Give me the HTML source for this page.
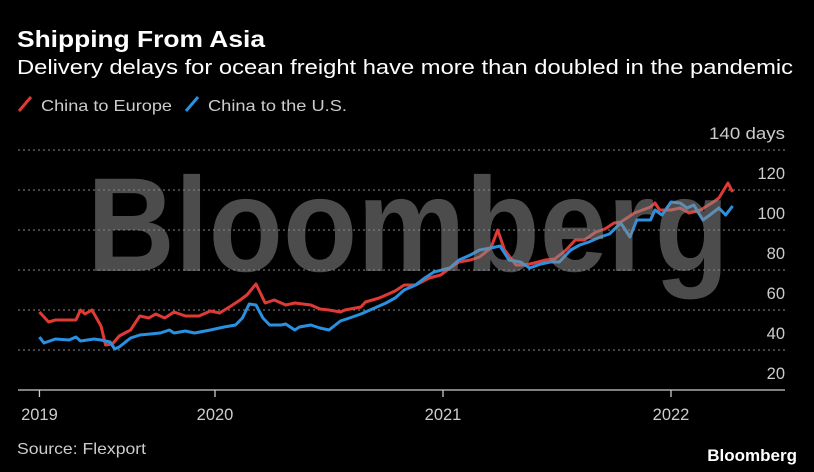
<!DOCTYPE html>
<html><head><meta charset="utf-8"><style>
html,body{margin:0;padding:0;background:#000;}
svg{display:block;font-family:"Liberation Sans","DejaVu Sans",sans-serif;}
</style></head><body>
<svg id="chart" width="814" height="472" viewBox="0 0 814 472">
<rect width="814" height="472" fill="#000"/>
<text x="17" y="47" fill="#fff" font-size="23" font-weight="bold" textLength="248" lengthAdjust="spacingAndGlyphs">Shipping From Asia</text>
<text x="17" y="74" fill="#fff" font-size="20.5" textLength="776" lengthAdjust="spacingAndGlyphs">Delivery delays for ocean freight have more than doubled in the pandemic</text>
<g>
<line x1="19" y1="111" x2="31" y2="97" stroke="#e03a35" stroke-width="3"/>
<text x="41" y="111" fill="#ccc" font-size="16" textLength="131" lengthAdjust="spacingAndGlyphs">China to Europe</text>
<line x1="186" y1="111" x2="198" y2="97" stroke="#2a90e0" stroke-width="3"/>
<text x="208" y="111" fill="#ccc" font-size="16" textLength="139" lengthAdjust="spacingAndGlyphs">China to the U.S.</text>
</g>
<g id="grid"></g>
<g id="series"></g>
<text x="729" y="271" fill="#8a8a8a" fill-opacity="0.55" font-size="134" font-weight="bold" text-anchor="end" textLength="642" lengthAdjust="spacingAndGlyphs">Bloomberg</text>
<text x="17" y="454" fill="#ccc" font-size="16" textLength="129" lengthAdjust="spacingAndGlyphs">Source: Flexport</text>
<text x="797" y="461" fill="#fff" font-size="17" font-weight="bold" text-anchor="end">Bloomberg</text>
</svg>
<script>
const tickTimes = [2019.23, 2020, 2021, 2022];
const tickYears = ["2019", "2020", "2021", "2022"];
const yTicks = [20, 40, 60, 80, 100, 120, 140];
const europeTimes = [2019.23,2019.27,2019.30,2019.39,2019.41,2019.43,2019.46,2019.50,2019.52,2019.55,2019.58,2019.63,2019.67,2019.71,2019.74,2019.78,2019.82,2019.87,2019.93,2019.98,2020.02,2020.07,2020.11,2020.14,2020.18,2020.22,2020.26,2020.31,2020.35,2020.42,2020.46,2020.50,2020.55,2020.57,2020.64,2020.66,2020.72,2020.79,2020.83,2020.88,2020.94,2020.99,2021.03,2021.07,2021.12,2021.16,2021.21,2021.24,2021.27,2021.32,2021.36,2021.40,2021.45,2021.49,2021.54,2021.58,2021.62,2021.67,2021.71,2021.75,2021.78,2021.84,2021.91,2021.93,2021.95,2022.00,2022.04,2022.08,2022.13,2022.15,2022.18,2022.21,2022.25,2022.27];
const europeValues = [59,54,55,55,60,58,60,52,42.5,43,47,50,57,56,58,56,59,57,57,59.5,58.5,62,65,67.5,73,63.5,65,62.5,63.5,62.5,60.5,60,59,60,61.5,64,66,69.5,72.5,72.5,76,77.5,81,84,85,86.5,91,100,90,82.5,82.5,83.5,85,85.5,90,95,95,99,100.5,103.5,104,108.5,111.5,113.5,110,110,111,108.5,110,111.5,113.5,116,123.5,119];
const usTimes = [2019.23,2019.25,2019.30,2019.36,2019.39,2019.41,2019.47,2019.50,2019.54,2019.56,2019.58,2019.63,2019.67,2019.76,2019.80,2019.82,2019.87,2019.91,2019.98,2020.04,2020.09,2020.12,2020.15,2020.18,2020.21,2020.24,2020.29,2020.31,2020.35,2020.37,2020.42,2020.46,2020.50,2020.55,2020.59,2020.64,2020.70,2020.75,2020.79,2020.83,2020.88,2020.92,2020.96,2021.03,2021.07,2021.12,2021.16,2021.21,2021.25,2021.29,2021.34,2021.38,2021.43,2021.47,2021.51,2021.56,2021.60,2021.64,2021.69,2021.73,2021.78,2021.82,2021.85,2021.91,2021.93,2021.96,2022.00,2022.04,2022.07,2022.10,2022.14,2022.17,2022.21,2022.24,2022.27];
const usValues = [46.5,43.5,45.5,45,46.5,44.5,45.5,45,44,40.5,41.5,46,47.5,48.5,50,48.5,49.5,48.5,50,51.5,52.5,56,63,62.5,56,52.5,52.5,53,50,51.5,52.5,51,50,54.5,56,58,61,63.5,66,70,72.5,76,79,81,85,87.5,90,91,92,85,84,81,83,84,84,90,92.5,94,96.5,98,103.5,96.5,105,105,110,107.5,114,113.5,111,112.5,105,107.5,111,107.5,112];

const X0 = 215, PX_PER_YEAR = 228;
function xScale(t){ return X0 + (t - 2020) * PX_PER_YEAR; }
function yScale(v){ return 150 + (140 - v) * 2; }
const NS = "http://www.w3.org/2000/svg";
const grid = document.getElementById("grid");
const series = document.getElementById("series");
function mk(tag, attrs, parent){ const e = document.createElementNS(NS, tag); for (const k in attrs) e.setAttribute(k, attrs[k]); parent.appendChild(e); return e; }

yTicks.forEach(v => {
  const y = yScale(v);
  if (v > 20) {
    const l = mk("line", {x1:18, x2:785, y1:y, y2:y, stroke:"#888", "stroke-width":1, "stroke-dasharray":"2,3"}, grid);
    
    
  }
  const attrs = {x:785, y:y - 11, fill:"#ccc", "font-size":16.5, "text-anchor":"end"};
  if (v === 140) { attrs.textLength = 76; attrs.lengthAdjust = "spacingAndGlyphs"; }
  const t = mk("text", attrs, grid);
  t.textContent = v === 140 ? "140 days" : String(v);
  
  
});
const axis = mk("line", {x1:18, x2:785, y1:yScale(20), y2:yScale(20), stroke:"#ccc", "stroke-width":1.3}, grid);


tickTimes.forEach((tt, i) => {
  const x = xScale(tt);
  const tk = mk("line", {x1:x, x2:x, y1:yScale(20), y2:yScale(20) + 7, stroke:"#ccc", "stroke-width":1.3}, grid);
  
  
  const lb = mk("text", {x:x, y:420, fill:"#ccc", "font-size":16.5, "text-anchor":"middle"}, grid);
  lb.textContent = tickYears[i];
  
  
});
function drawLine(times, vals, color, name){
  const d = times.map((t, i) => (i ? "L" : "M") + xScale(t).toFixed(1) + "," + yScale(vals[i]).toFixed(1)).join("");
  const p = mk("path", {d:d, fill:"none", stroke:color, "stroke-width":3, "stroke-linejoin":"round"}, series);
  
  
}
drawLine(europeTimes, europeValues, "#e03a35", "line-china-to-europe");
drawLine(usTimes, usValues, "#2a90e0", "line-china-to-us");
</script>
</body></html>
